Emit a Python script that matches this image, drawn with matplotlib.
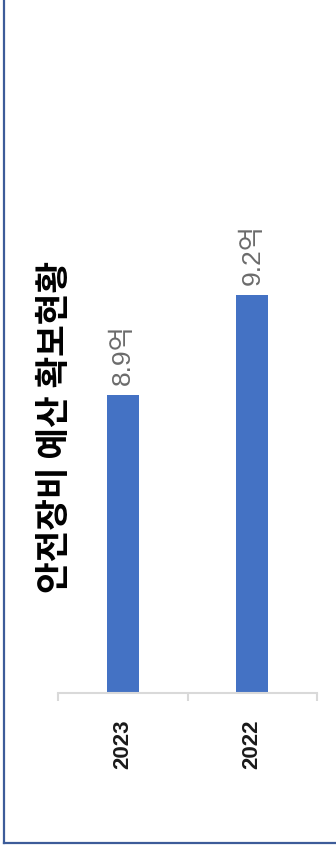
import matplotlib
matplotlib.use("Agg")
import matplotlib.pyplot as plt
from matplotlib.lines import Line2D

categories = ["2023", "2022"]
values = [8.9, 9.2]
value_labels = ["8.9억", "9.2억"]
title = "안전장비 예산 확보현황"

W, H = 336, 854
fig = plt.figure(figsize=(W / 100, H / 100), dpi=100)
fig.patch.set_facecolor("white")

left, right, top, bottom = 58, 317, 31, 694
ax = fig.add_axes([left / W, (H - bottom) / H, (right - left) / W, (bottom - top) / H])

x = list(range(len(categories)))
bars = ax.bar(x, values, width=0.25, color="#4472C4", zorder=2)
ax.set_xlim(-0.5, len(categories) - 0.5)
ax.set_ylim(8.0, 10.0)

for s in ["top", "right", "left"]:
    ax.spines[s].set_visible(False)
ax.spines["bottom"].set_color("#d9d9d9")
ax.spines["bottom"].set_linewidth(1.5)
ax.set_yticks([])

ax.set_xticks(x)
ax.set_xticklabels(categories, rotation=90, fontsize=16, fontweight="bold",
                   family=["Liberation Sans", "Noto Sans CJK KR"], color="#1a1a1a")
ax.tick_params(axis="x", which="major", length=0, pad=18.5)
ax.set_xticks([i - 0.5 for i in range(len(categories) + 1)], minor=True)
ax.tick_params(axis="x", which="minor", length=6, width=1.5, color="#d9d9d9", direction="out")

for xi, v, lab in zip(x, values, value_labels):
    ax.annotate(lab, (xi, v), xytext=(0, 8), textcoords="offset points",
                rotation=90, ha="center", va="bottom", fontsize=19,
                family=["Liberation Sans", "Noto Sans CJK KR"], color="#6b6b6b")

fig.text(55 / W, 1 - 427 / H, title, rotation=90, ha="center", va="center",
         fontsize=24.8, fontweight="bold", family=["Noto Sans CJK KR", "DejaVu Sans"],
         color="black")

border_color = "#3d5c99"
fig.add_artist(Line2D([4 / W, 4 / W], [1 - 844 / H, 1.0], transform=fig.transFigure,
                      color=border_color, linewidth=1.6))
fig.add_artist(Line2D([4 / W, 1.0], [1 - 844 / H, 1 - 844 / H], transform=fig.transFigure,
                      color=border_color, linewidth=1.6))

fig.savefig("out.png", dpi=100, facecolor="white")
